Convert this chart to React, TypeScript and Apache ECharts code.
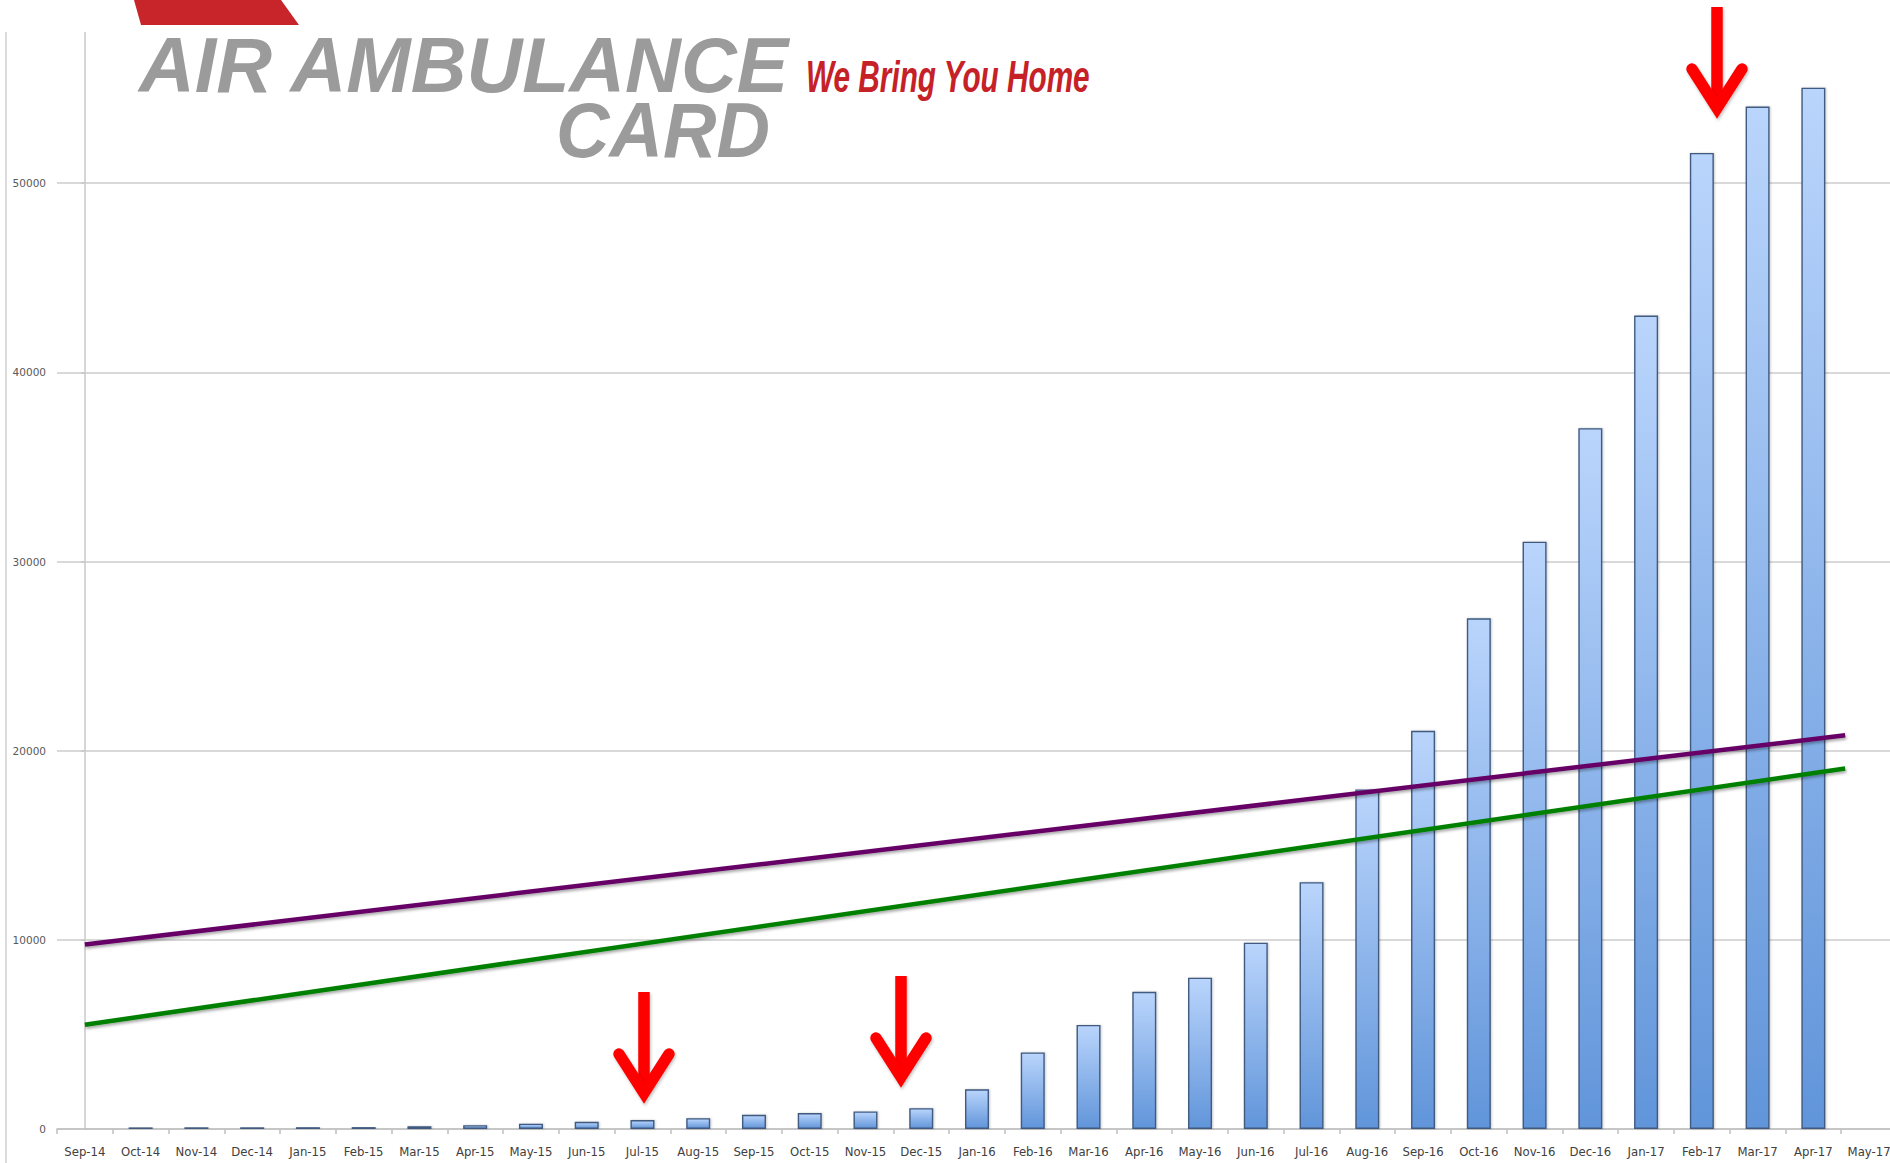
import React, { useEffect, useRef } from "react";
import * as echarts from "echarts";

const categories = [
  "Sep-14", "Oct-14", "Nov-14", "Dec-14", "Jan-15", "Feb-15", "Mar-15", "Apr-15",
  "May-15", "Jun-15", "Jul-15", "Aug-15", "Sep-15", "Oct-15", "Nov-15", "Dec-15",
  "Jan-16", "Feb-16", "Mar-16", "Apr-16", "May-16", "Jun-16", "Jul-16", "Aug-16",
  "Sep-16", "Oct-16", "Nov-16", "Dec-16", "Jan-17", "Feb-17", "Mar-17", "Apr-17", "May-17",
];

const monthlyValues: (number | null)[] = [
  null, 85, 90, 90, 95, 100, 150, 200,
  280, 380, 470, 570, 750, 840, 930, 1100,
  2100, 4050, 5500, 7250, 8000, 9850, 13050, 17950,
  21050, 27000, 31050, 37050, 43000, 51600, 54050, 55050, null,
];

// trend lines: [category position, value] at start and end
const trendPurple = [[0, 9750], [31.57, 20810]];
const trendGreen = [[0, 5510], [31.57, 19060]];

const yMin = 0;
const yMax = 60000;
const yStep = 10000;

function arrow(cx: number, top: number, tip: number) {
  const wingDy = 49;
  const wingDx = 25;
  const apex = tip - 10;
  const sw = 11.5;
  const shadow = { shadowBlur: 3, shadowColor: "rgba(0,0,0,0.25)", shadowOffsetX: 1, shadowOffsetY: 2 };
  return [
    {
      type: "rect",
      z: 120,
      shape: { x: cx - sw / 2, y: top, width: sw, height: apex - 6 - top },
      style: { fill: "#ff0000", ...shadow },
    },
    {
      type: "polyline",
      z: 121,
      shape: { points: [[cx - wingDx, tip - wingDy], [cx, apex], [cx + wingDx, tip - wingDy]] },
      style: { stroke: "#ff0000", lineWidth: sw, lineCap: "round", lineJoin: "miter", fill: null, ...shadow },
    },
  ];
}

export default function App() {
  const ref = useRef<HTMLDivElement>(null);
  useEffect(() => {
    document.body.style.margin = "0";
    const chart = echarts.init(ref.current!, null, { renderer: "svg" });
    const lineShadow = { shadowBlur: 3, shadowColor: "rgba(0,0,0,0.35)", shadowOffsetX: 1, shadowOffsetY: 2 };
    chart.setOption({
      animation: false,
      backgroundColor: "#ffffff",
      grid: {
        left: 57,
        top: -6,
        width: 1840,
        height: 1135,
        containLabel: false,
        outerBoundsMode: "none",
      },
      xAxis: [
        {
          type: "category",
          data: categories,
          boundaryGap: true,
          axisLine: { lineStyle: { color: "#bfbfbf", width: 1.5 } },
          axisTick: { show: true, length: 5, lineStyle: { color: "#bfbfbf", width: 1.5 } },
          axisLabel: {
            interval: 0,
            color: "#404040",
            fontSize: 13,
            margin: 16,
            fontFamily: "'Liberation Sans Narrow', 'DejaVu Sans Condensed', sans-serif",
          },
          splitLine: { show: false },
        },
        { type: "value", min: -0.5, max: 32.5, show: false },
      ],
      yAxis: {
        type: "value",
        min: yMin,
        max: yMax,
        interval: yStep,
        axisLine: { show: true, lineStyle: { color: "#c8c8c8", width: 1.5 } },
        axisTick: { show: true, length: 4, lineStyle: { color: "#c8c8c8", width: 1.5 } },
        axisLabel: {
          color: "#595959",
          fontSize: 10.5,
          margin: 11,
          showMaxLabel: false,
          fontFamily: "'DejaVu Sans', sans-serif",
          formatter: (v: number) => String(v),
        },
        splitLine: { lineStyle: { color: "#d9d9d9", width: 2 } },
      },
      series: [
        {
          type: "bar",
          data: monthlyValues,
          barWidth: 24,
          itemStyle: {
            color: new echarts.graphic.LinearGradient(0, 0, 0, 1, [
              { offset: 0, color: "#bad5fc" },
              { offset: 1, color: "#6195da" },
            ]),
            borderColor: "#3f5a80",
            borderWidth: 1.4,
            shadowBlur: 2,
            shadowColor: "rgba(0,0,0,0.2)",
            shadowOffsetX: 1,
          },
        },
        {
          type: "line",
          xAxisIndex: 1,
          data: trendPurple,
          symbol: "none",
          lineStyle: { color: "#660066", width: 4.5, ...lineShadow },
          z: 5,
        },
        {
          type: "line",
          xAxisIndex: 1,
          data: trendGreen,
          symbol: "none",
          lineStyle: { color: "#008000", width: 4.5, ...lineShadow },
          z: 5,
        },
      ],
      graphic: [
        {
          type: "line",
          z: 50,
          shape: { x1: 6, y1: 0, x2: 6, y2: 1163 },
          style: { stroke: "#d0d0d0", lineWidth: 1.5 },
        },
        {
          type: "rect",
          z: 100,
          shape: { x: 0, y: 0, width: 1890, height: 32 },
          style: { fill: "#ffffff" },
        },
        {
          type: "polygon",
          z: 110,
          shape: { points: [[134, 0], [281, 0], [299, 25], [141, 25]] },
          style: { fill: "#c8252b" },
        },
        {
          type: "text",
          z: 110,
          x: 139,
          y: 65,
          scaleX: 0.99,
          style: {
            text: "AIR AMBULANCE",
            x: 0,
            y: 0,
            fill: "#9b9b9b",
            font: "italic bold 78px 'Liberation Sans', sans-serif",
            lineHeight: 58,
            textAlign: "left",
            verticalAlign: "middle",
          },
        },
        {
          type: "text",
          z: 110,
          x: 556,
          y: 130,
          scaleX: 0.95,
          style: {
            text: "CARD",
            x: 0,
            y: 0,
            fill: "#9b9b9b",
            font: "italic bold 78px 'Liberation Sans', sans-serif",
            lineHeight: 58,
            textAlign: "left",
            verticalAlign: "middle",
          },
        },
        {
          type: "text",
          z: 110,
          x: 806,
          y: 77,
          scaleX: 0.676,
          style: {
            text: "We Bring You Home",
            x: 0,
            y: 0,
            fill: "#c62127",
            font: "italic bold 44px 'Liberation Sans', sans-serif",
            lineHeight: 34,
            textAlign: "left",
            verticalAlign: "middle",
          },
        },
        ...arrow(644, 992, 1103),
        ...arrow(901, 976, 1087),
        ...arrow(1717, 7, 118),
      ],
    });
    return () => chart.dispose();
  }, []);
  return (
    <div
      ref={ref}
      style={{ position: "fixed", left: 0, top: 0, width: 1890, height: 1163, background: "#fff" }}
    />
  );
}
